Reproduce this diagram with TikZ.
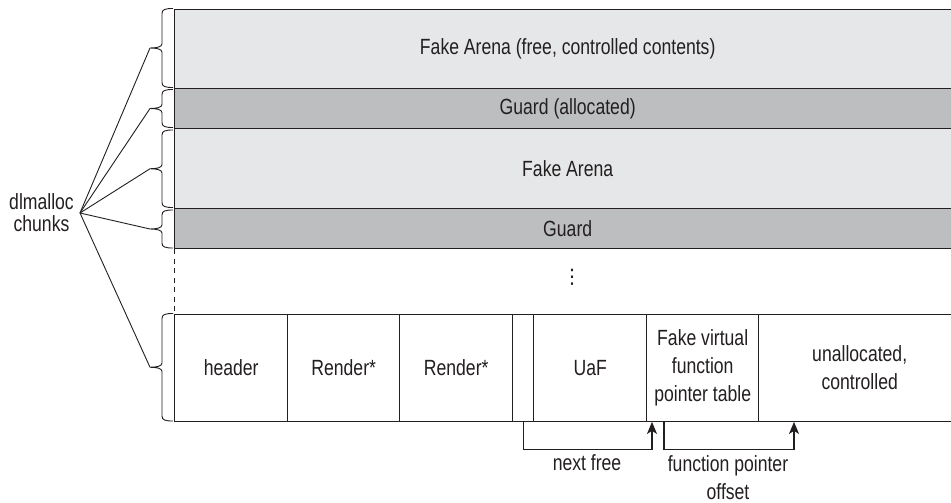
\documentclass[tikz,border=0pt]{standalone}
\usepackage{fontspec}
\setmainfont{Liberation Sans}[FakeStretch=0.8]
\newfontfamily\symfont{DejaVu Sans}
\usetikzlibrary{arrows.meta,calc}
\definecolor{lightfill}{HTML}{E6E7E8}
\definecolor{darkfill}{HTML}{BCBEC0}
\definecolor{ink}{HTML}{231F20}
\newcommand\chunkbrace[3]{%
  \pgfmathsetmacro\bm{(#1+#2)/2}%
  \draw[bracestyle] (173,#1) .. controls (165,#1) and (162,#1+1) .. (162,#1+5)
    -- (162,\bm-4) .. controls (162,\bm-1) and (156,\bm) .. (150,\bm)
    .. controls (156,\bm) and (162,\bm+1) .. (162,\bm+4)
    -- (162,#2-5) .. controls (162,#2-1) and (165,#2) .. (173,#2);
  \coordinate (#3) at (150,\bm);
}
\begin{document}
\begin{tikzpicture}[x=1pt,y=-1pt,
  font=\fontsize{22}{28}\selectfont, text=ink,
  cell/.style={draw=ink, line width=1.4pt, inner sep=0pt, anchor=north west, align=center},
  bracestyle/.style={draw=ink, line width=0.9pt},
  fanline/.style={draw=ink, line width=0.9pt},
  conn/.style={draw=ink, line width=1.3pt, -{Stealth[length=12pt,width=10pt,inset=3pt]}},
  lbl/.style={inner sep=0pt, align=center}]
\useasboundingbox (0,0) rectangle (951,503);
\fill[white] (0,0) rectangle (951,503);
\begin{scope}
\clip (0,0) rectangle (951,503);
\node[cell, fill=lightfill, minimum width=786pt, minimum height=79pt] (arenaA) at (174,9) {Fake Arena (free, controlled contents)};
\node[cell, fill=darkfill, minimum width=786pt, minimum height=40pt] (guardA) at (174,88) {Guard (allocated)};
\node[cell, fill=lightfill, minimum width=786pt, minimum height=80pt] (arenaB) at (174,128) {Fake Arena};
\node[cell, fill=darkfill, minimum width=786pt, minimum height=40pt] (guardB) at (174,208) {Guard};
\node[cell, minimum width=113pt, minimum height=106.5pt] (hdr) at (174,314) {header};
\node[cell, minimum width=112pt, minimum height=106.5pt] (rA) at (287,314) {Render*};
\node[cell, minimum width=113pt, minimum height=106.5pt] (rB) at (399,314) {Render*};
\node[cell, minimum width=21pt, minimum height=106.5pt] (small) at (512,314) {};
\node[cell, minimum width=113pt, minimum height=106.5pt] (uaf) at (533,314) {UaF};
\node[cell, minimum width=112pt, minimum height=106.5pt] (vt) at (646,314) {Fake virtual\\function\\pointer table};
\node[cell, minimum width=202pt, minimum height=106.5pt] (unal) at (758,314) {unallocated,\\controlled};
\end{scope}
% dashed continuation
\draw[ink, line width=1pt, dash pattern=on 5pt off 4.5pt] (guardB.south west) -- (hdr.north west);
% vertical ellipsis
\node[lbl, font=\symfont\fontsize{20}{20}\selectfont] (dots) at (572,277) {⋮};
% braces
\chunkbrace{8.5}{87.5}{tipA}
\chunkbrace{89.5}{127.5}{tipB}
\chunkbrace{130}{207.5}{tipC}
\chunkbrace{210}{248}{tipD}
\chunkbrace{313.5}{421}{tipE}
% label and fan
\coordinate (apex) at (80,213);
\node[lbl, font=\fontsize{22}{22}\selectfont] (chunks) at (41.5,213) {dlmalloc\\chunks};
\foreach \t in {tipA,tipB,tipC,tipD,tipE} \draw[fanline] (apex) -- (\t);
% pointer arrows
\draw[conn] (small.south) -- ++(0,27.5) -| ($(vt.south west)+(6,0)$);
\draw[conn] ($(vt.south west)+(18,0)$) -- ++(0,27.5) -| ($(unal.south west)+(36,0)$);
\node[lbl] (nextfree) at (587,463) {next free};
\node[lbl] (fpoff) at (728,478) {function pointer\\offset};
\end{tikzpicture}
\end{document}
